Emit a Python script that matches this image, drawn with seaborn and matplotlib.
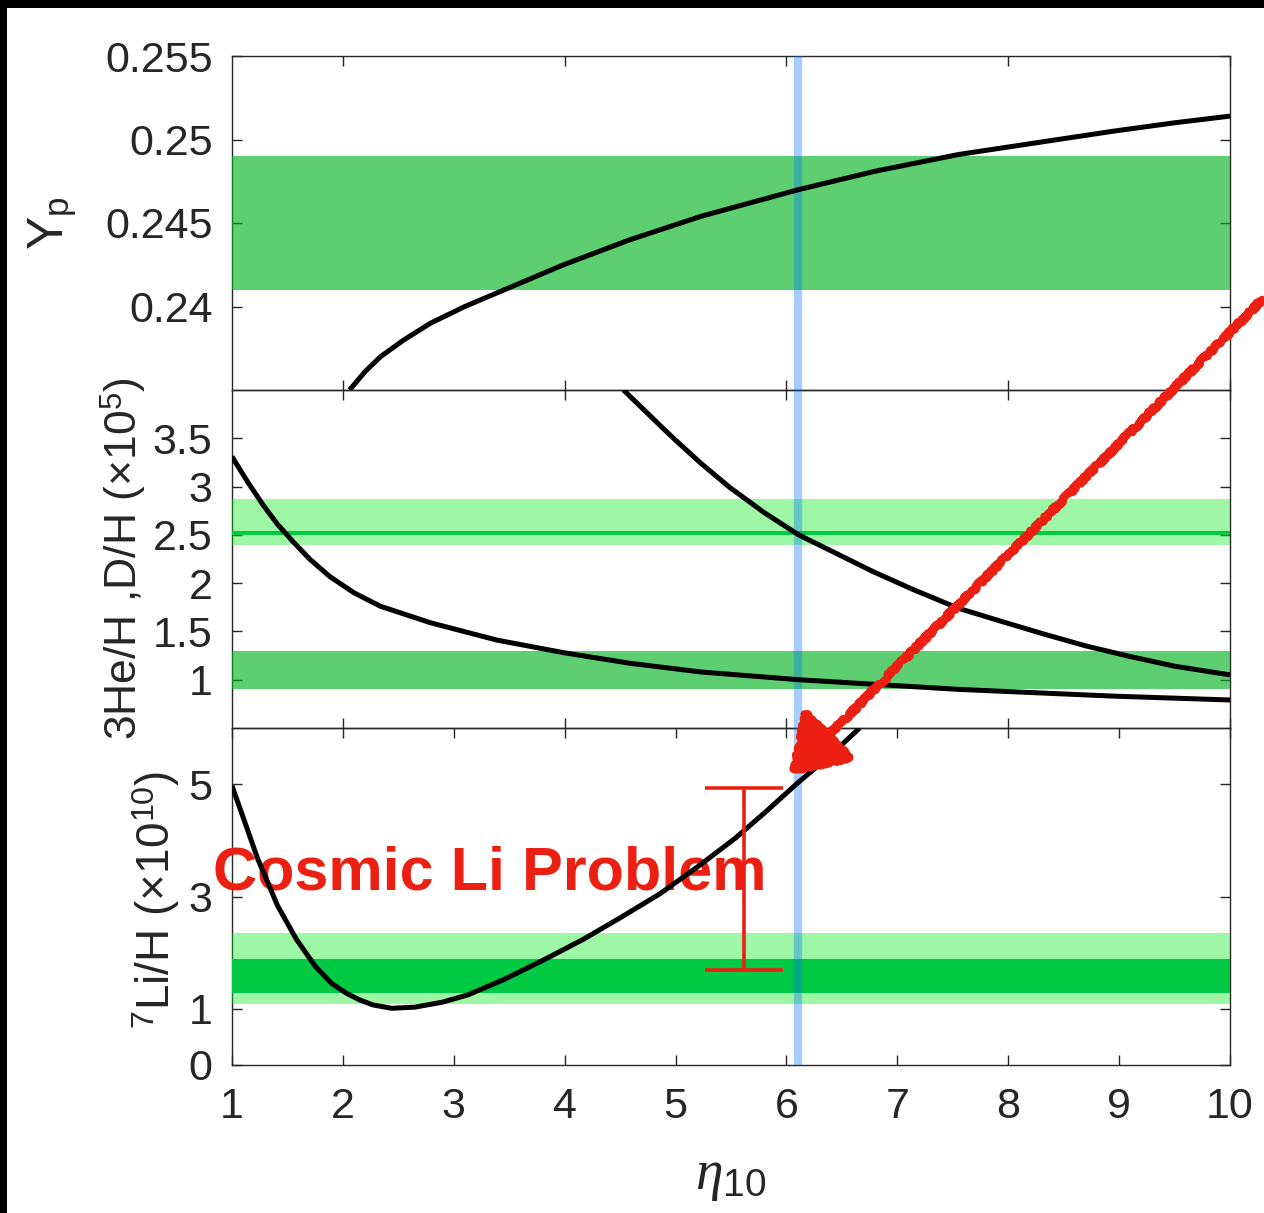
import matplotlib
matplotlib.use("Agg")
import matplotlib.pyplot as plt
import seaborn as sns
from matplotlib.patches import FancyArrowPatch, Rectangle, ArrowStyle

# Primordial helium mass fraction Y_p versus eta_10
yp_eta = [2.06, 2.20, 2.34, 2.55, 2.79, 3.10, 3.42, 3.99, 4.59, 5.23, 6.11, 6.80, 7.55, 8.95, 9.50, 10.0]
yp_val = [0.2350, 0.2361, 0.2370, 0.2380, 0.2390, 0.2400, 0.2409, 0.2425, 0.2440, 0.2454, 0.2470, 0.2481, 0.2491, 0.2505, 0.2510, 0.2514]

# 3He/H (x 1e5)
he3_eta = [1.00, 1.14, 1.28, 1.41, 1.55, 1.70, 1.88, 2.10, 2.34, 2.79, 3.39, 3.99, 4.59, 5.23, 6.11, 7.55, 8.95, 10.0]
he3_val = [3.31, 3.05, 2.81, 2.61, 2.43, 2.25, 2.07, 1.90, 1.76, 1.59, 1.41, 1.28, 1.17, 1.08, 1.00, 0.90, 0.83, 0.79]

# D/H (x 1e5)
dh_eta = [4.53, 4.89, 5.00, 5.23, 5.49, 5.80, 6.11, 6.78, 7.15, 7.55, 7.95, 8.33, 8.70, 9.10, 9.50, 10.0]
dh_val = [4.00, 3.60, 3.48, 3.24, 2.99, 2.73, 2.50, 2.12, 1.93, 1.74, 1.60, 1.47, 1.35, 1.24, 1.14, 1.05]

# 7Li/H (x 1e10)
li_eta = [1.00, 1.12, 1.23, 1.41, 1.58, 1.75, 1.90, 2.03, 2.15, 2.27, 2.44, 2.65, 2.90, 3.13, 3.45, 3.82, 4.17, 4.50, 4.86, 5.20, 5.54, 5.82, 6.10, 6.40, 6.66]
li_val = [4.97, 4.30, 3.68, 2.84, 2.24, 1.76, 1.45, 1.28, 1.16, 1.07, 1.01, 1.03, 1.12, 1.25, 1.52, 1.88, 2.24, 2.62, 3.05, 3.53, 4.04, 4.52, 5.02, 5.52, 6.00]

# Observational bands
yp_band = (0.241, 0.249)
he3_band = (0.90, 1.30)
dh_band = (2.40, 2.87)
dh_core = (2.495, 2.545)
li_band_wide = (1.08, 2.35)
li_band_core = (1.28, 1.89)

# Baryon density from the CMB
eta_cmb = 6.1

# Discrepancy marker for lithium
gap_eta = 5.62
gap_low, gap_high = 1.70, 4.93

# Axis ticks
x_ticks_all = [1, 2, 3, 4, 5, 6, 7, 8, 9, 10]
x_ticks_even = [2, 4, 6, 8, 10]
yp_ticks = [0.24, 0.245, 0.25, 0.255]
yp_ticklabels = ["0.24", "0.245", "0.25", "0.255"]
dh_ticks = [1, 1.5, 2, 2.5, 3, 3.5]
dh_ticklabels = ["1", "1.5", "2", "2.5", "3", "3.5"]
li_ticks = [0, 1, 3, 5]
li_ticklabels = ["0", "1", "3", "5"]

sns.set_theme(style="ticks")
plt.rcParams["font.family"] = ["Liberation Sans", "DejaVu Sans"]
plt.rcParams["mathtext.fontset"] = "custom"
plt.rcParams["mathtext.rm"] = "Liberation Sans"
plt.rcParams["mathtext.sf"] = "Liberation Sans"
plt.rcParams["mathtext.it"] = "Liberation Serif:italic"
plt.rcParams["lines.solid_joinstyle"] = "round"
plt.rcParams["lines.solid_capstyle"] = "butt"

AX_COLOR = "#262626"
FS = 31
LW = 3.6
BAND = "#00b41e"      # drawn with alpha
LIGHT = "#00eb14"     # drawn with alpha
DARK = "#00c943"
BLUE = "#0072ff"
RED = "#ec2012"

W, H = 1264, 1213
fig = plt.figure(figsize=(W / 100, H / 100), dpi=100)
fig.patch.set_facecolor("black")
fig.patches.append(Rectangle((7 / W, 0), 1, 1 - 8 / H, transform=fig.transFigure,
                             facecolor="white", edgecolor="none", zorder=-10))

left = 232 / W
width = (1230 - 232) / W


def make_axes(top_px, bottom_px):
    return fig.add_axes([left, 1 - bottom_px / H, width, (bottom_px - top_px) / H])


ax1 = make_axes(56, 390)
ax2 = make_axes(390, 728)
ax3 = make_axes(728, 1065)

for ax in (ax1, ax2, ax3):
    ax.set_facecolor("none")
    ax.set_xlim(1, 10)
    for s in ax.spines.values():
        s.set_visible(True)
        s.set_color(AX_COLOR)
        s.set_linewidth(1.0)
        s.set_zorder(2.5)
    ax.tick_params(which="both", direction="in", top=True, right=True, length=7.5,
                   width=1.0, color=AX_COLOR, labelcolor=AX_COLOR, labelsize=FS)
    ax.tick_params(axis="y", pad=14)
    ax.tick_params(axis="x", pad=16)
    ax.axvline(eta_cmb, color=BLUE, alpha=0.35, lw=6, zorder=3.5)

# --- Helium-4 panel ---
ax1.set_ylim(0.235, 0.255)
ax1.axhspan(*yp_band, color=BAND, alpha=0.63, lw=0, zorder=3)
sns.lineplot(x=yp_eta, y=yp_val, ax=ax1, color="black", lw=LW, zorder=4)
ax1.set_xticks(x_ticks_even)
ax1.set_xticklabels([])
ax1.set_yticks(yp_ticks)
ax1.set_yticklabels(yp_ticklabels)
ax1.set_ylabel(r"Y$_\mathrm{p}$", fontsize=36, color=AX_COLOR)
ax1.yaxis.set_label_coords(-0.153, 0.5)

# --- D and 3He panel ---
ax2.set_ylim(0.5, 4.0)
ax2.axhspan(*dh_band, color=LIGHT, alpha=0.38, lw=0, zorder=3)
ax2.axhspan(*dh_core, color=DARK, lw=0, zorder=3.1)
ax2.axhspan(*he3_band, color=BAND, alpha=0.63, lw=0, zorder=3)
sns.lineplot(x=he3_eta, y=he3_val, ax=ax2, color="black", lw=LW, zorder=4)
sns.lineplot(x=dh_eta, y=dh_val, ax=ax2, color="black", lw=LW, zorder=4)
ax2.set_xticks(x_ticks_even)
ax2.set_xticklabels([])
ax2.set_yticks(dh_ticks)
ax2.set_yticklabels(dh_ticklabels)
ax2.set_ylabel(r"3He/H ,D/H ($\times$10$^{5}$)", fontsize=32, color=AX_COLOR)
ax2.yaxis.set_label_coords(-0.084, 0.5)

# --- Lithium-7 panel ---
ax3.set_ylim(0, 6)
ax3.axhspan(*li_band_wide, color=LIGHT, alpha=0.38, lw=0, zorder=3)
ax3.axhspan(*li_band_core, color=DARK, lw=0, zorder=3.1)
sns.lineplot(x=li_eta, y=li_val, ax=ax3, color="black", lw=LW, zorder=4)
ax3.set_xticks(x_ticks_all)
ax3.set_xticklabels([str(v) for v in x_ticks_all])
ax3.set_yticks(li_ticks)
ax3.set_yticklabels(li_ticklabels)
ax3.set_ylabel(r"$^{7}$Li/H ($\times$10$^{10}$)", fontsize=33, color=AX_COLOR)
ax3.yaxis.set_label_coords(-0.050, 0.49)
ax3.set_xlabel(r"$\eta_{10}$", fontsize=40, color=AX_COLOR)
ax3.xaxis.set_label_coords(0.5, -0.255)
ax3.xaxis.label.set_va("top")

ax3.errorbar([gap_eta], [(gap_low + gap_high) / 2], yerr=[(gap_high - gap_low) / 2],
             fmt="none", ecolor=RED, elinewidth=2.6, capsize=28, capthick=2.6, zorder=5)
ax3.text(0.83, 3.12, "Cosmic Li Problem", color=RED, fontsize=44, fontweight="bold",
         ha="left", va="baseline", clip_on=False, zorder=3.8)

# Hand-drawn style arrow pointing at the lithium prediction
arrow = FancyArrowPatch((1.0, 1 - 298 / H), (787 / W, 1 - 777 / H),
                        transform=fig.transFigure,
                        arrowstyle=ArrowStyle("-|>", head_length=0.85, head_width=0.55),
                        mutation_scale=40, color=RED, lw=6, zorder=20)
arrow.set_sketch_params(scale=1.5, length=6, randomness=12)
fig.add_artist(arrow)

fig.savefig("out.png", dpi=100, facecolor=fig.get_facecolor())
